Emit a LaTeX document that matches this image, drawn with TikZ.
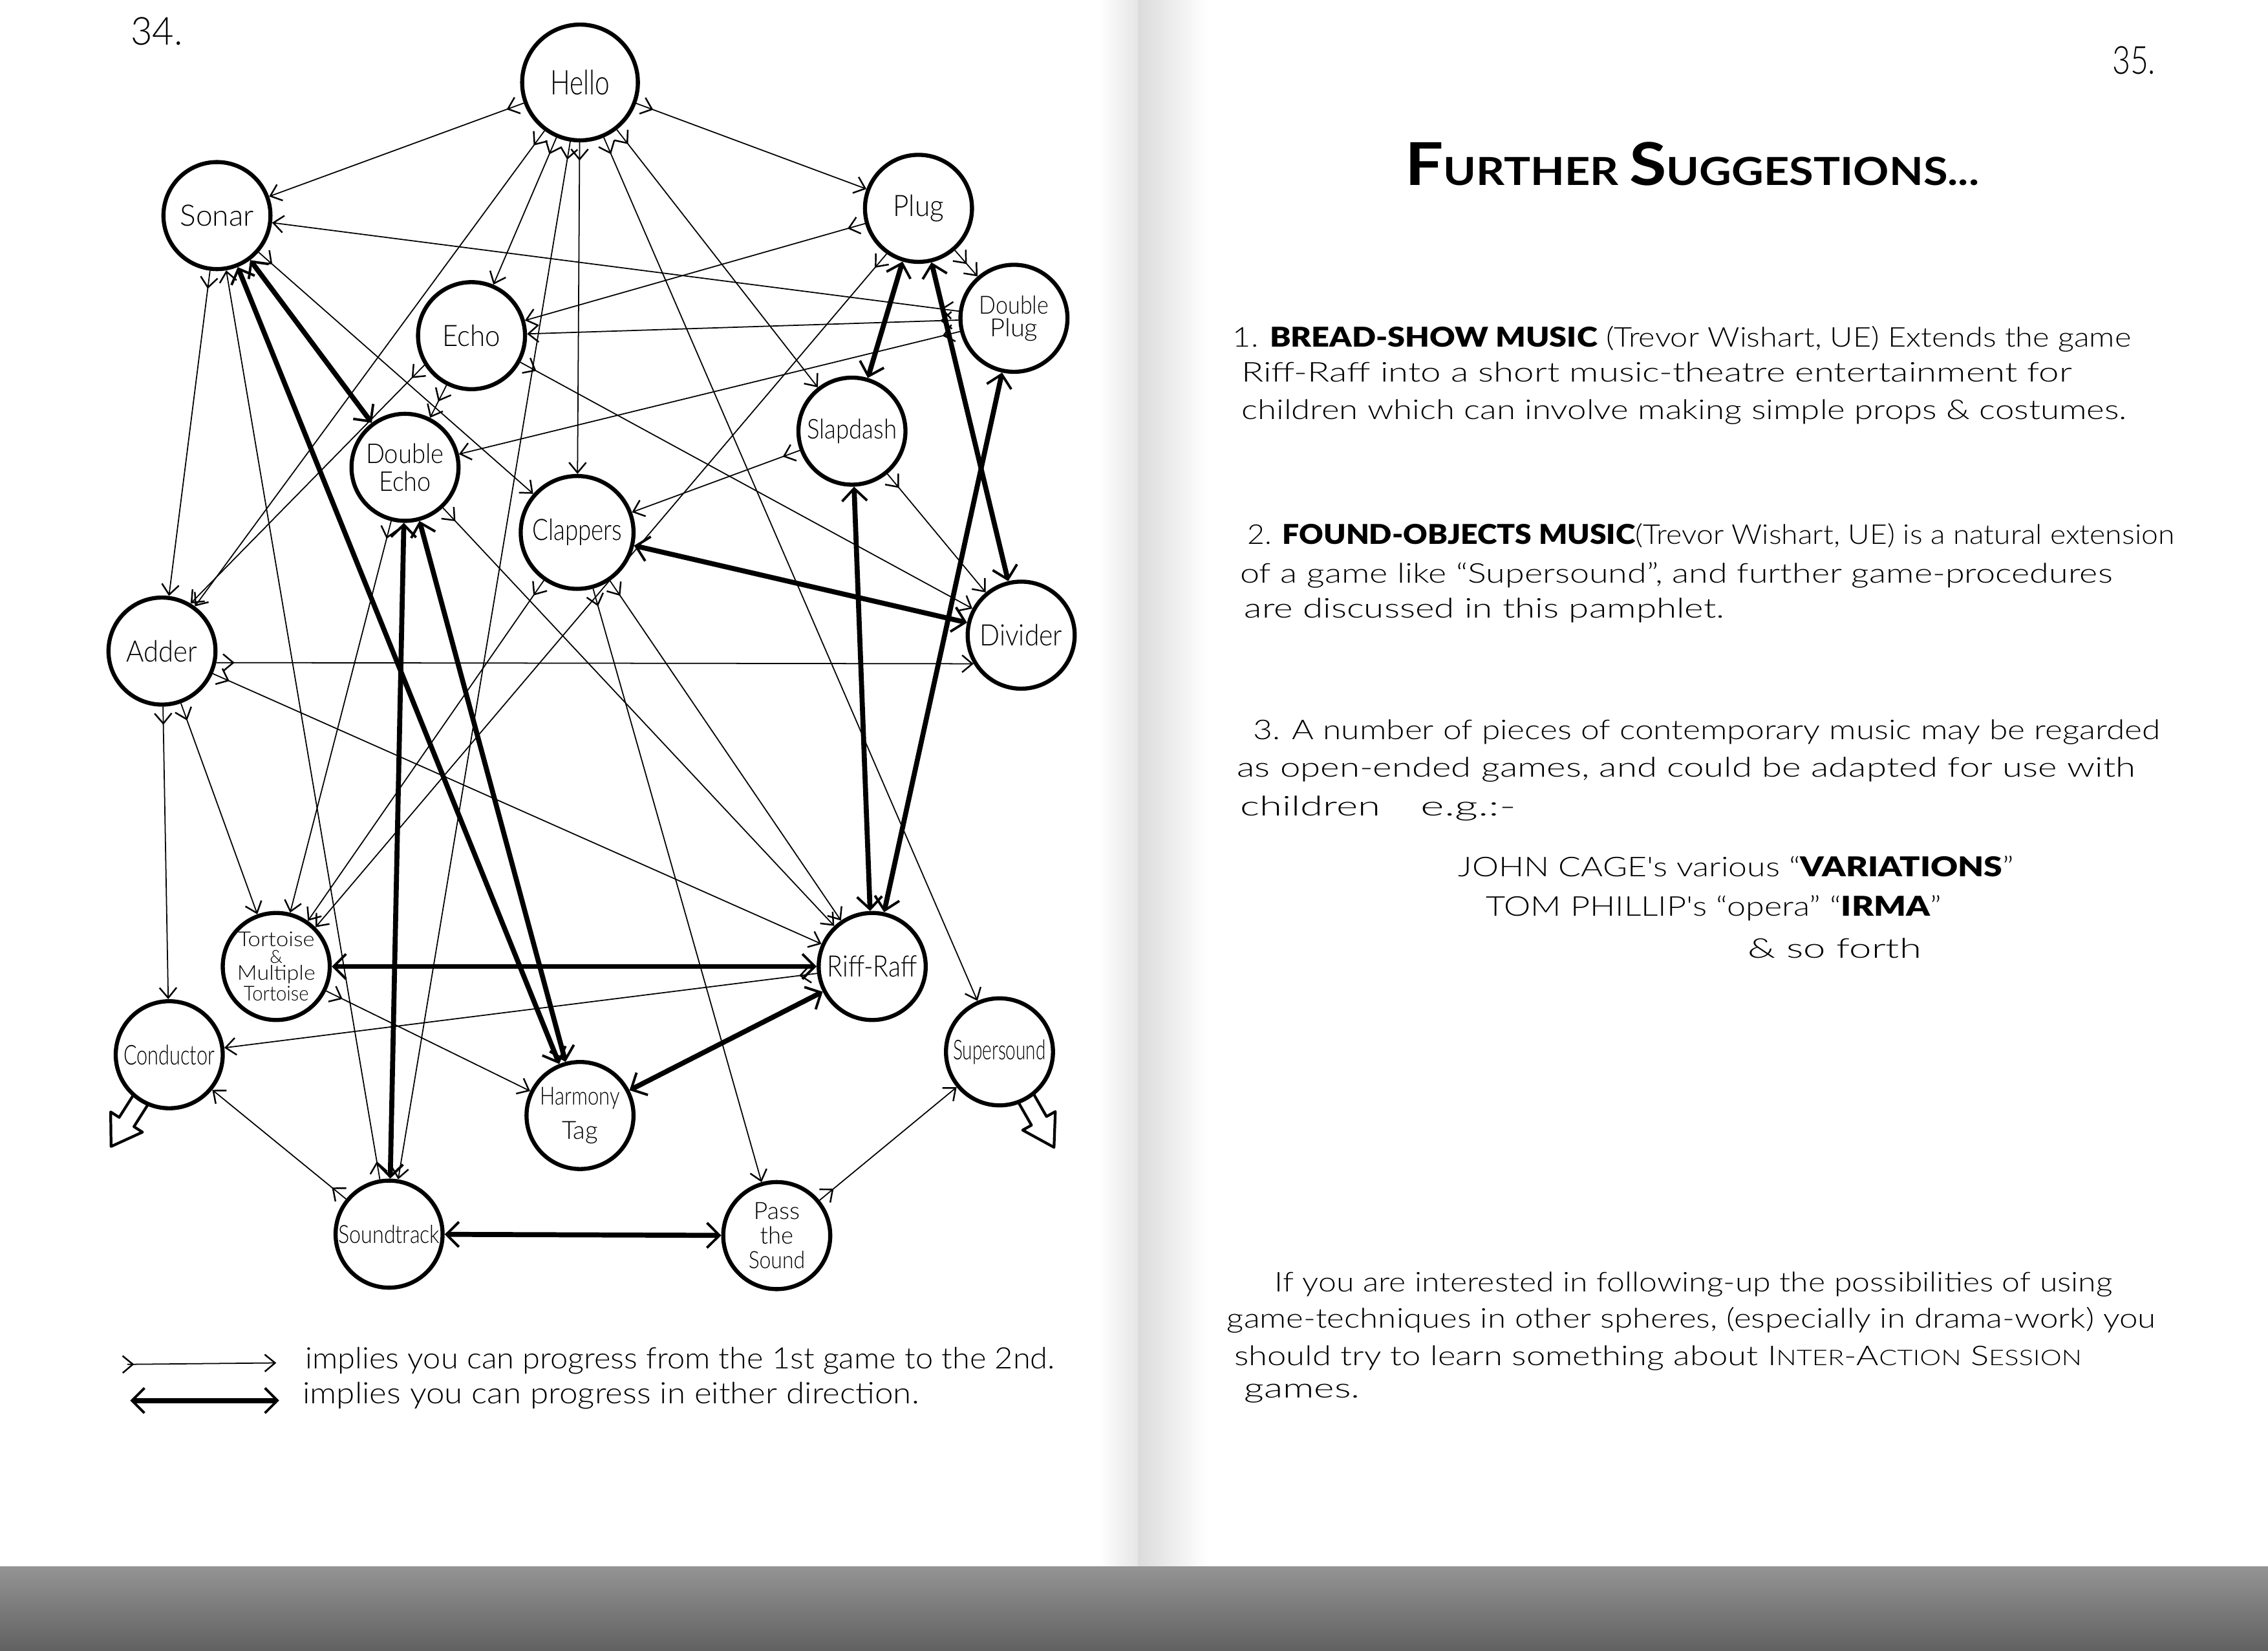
\documentclass[tikz,border=0pt]{standalone}
\usepackage{fontspec}
\usepackage{graphicx}
\usetikzlibrary{arrows.meta,decorations.markings}
\newfontfamily\hand{Lato Light}
\newfontfamily\handbf{Lato Black}
\newfontfamily\handmid{Lato}
\newlength\ux
\setlength\ux{0.02237cm}
% squeeze a handwritten-looking line to a given width, keeping its height
\newcommand\hw[2]{\resizebox{#1\ux}{\height}{#2}}
\newcommand\fsz[1]{\fontsize{#1}{#1}\selectfont}
\pgfdeclarelayer{paper}
\pgfdeclarelayer{links}
\pgfsetlayers{paper,links,main}
\tikzset{
  headbarb/.tip={Straight Barb[length=4.5pt,width=7.5pt,line width=0.7pt]},
  bigbarb/.tip={Straight Barb[length=5.5pt,width=11pt,line width=1.1pt]},
}
\begin{document}
\begin{tikzpicture}[x=0.02237cm,y=-0.02237cm,
  game/.style={circle,draw,fill=white,line width=1.8pt,minimum size=1.655cm,
    inner sep=0pt,align=center,font={\hand\fsz{13}}},
  fwd/.style={line width=0.5pt,-headbarb,postaction={decorate},
    decoration={markings,mark=at position 8pt with {\arrow{headbarb}}}},
  twoway/.style={line width=2.2pt,bigbarb-bigbarb},
  txt/.style={anchor=base west,inner sep=0pt,font={\hand\fsz{12}}},
  hollow/.style={line width=1.2pt,fill=white,line join=round},
]
\useasboundingbox (0,0) rectangle (1568,1141);

% ---------- paper, spine and table edge ----------
\begin{pgfonlayer}{paper}
  \fill[white] (0,0) rectangle (1568,1141);
  \shade[left color=white,right color=black!10] (760,0) rectangle (787,1083);
  \shade[left color=black!14,right color=white] (787,0) rectangle (835,1083);
  \shade[top color=black!42,bottom color=black!62] (0,1083) rectangle (1568,1141);
\end{pgfonlayer}

% ---------- games ----------
\node[game,minimum size=1.79cm,font={\hand\fsz{15}}] (hello) at (401,57) {\hw{41}{Hello}};
\node[game] (sonar) at (150,149) {\hw{51}{Sonar}};
\node[game] (plug) at (635,144) {\hw{35}{Plug}};
\node[game] (echo) at (326,232) {\hw{40}{Echo}};
\node[game,font={\hand\fontsize{11}{10}\selectfont}] (dplug) at (701,220) {\hw{48}{Double}\\\hw{33}{Plug}};
\node[game,font={\hand\fsz{12}}] (slapdash) at (589,298) {\hw{62}{Slapdash}};
\node[game,font={\hand\fontsize{12}{12.4}\selectfont}] (decho) at (280,323) {\hw{54}{Double}\\\hw{36}{Echo}};
\node[game,minimum size=1.745cm] (clappers) at (399,368) {\hw{62}{Clappers}};
\node[game] (divider) at (706,439) {\hw{57}{Divider}};
\node[game] (adder) at (112,450) {\hw{49}{Adder}};
\node[game,font={\hand\fontsize{9}{7.4}\selectfont}] (tortoise) at (191,668)
  {\hw{53}{Tortoise}\\{\fsz{8}\&}\\\hw{54}{Multiple}\\\hw{45}{Tortoise}};
\node[game] (riffraff) at (603,668) {\hw{62}{Riff-Raff}};
\node[game,font={\hand\fsz{12}}] (conductor) at (117,729) {\hw{63}{Conductor}};
\node[game,font={\hand\fsz{12}}] (supersound) at (691,727) {\hw{64}{Supersound}};
\node[game,font={\hand\fontsize{11}{15}\selectfont}] (harmony) at (401,771) {\hw{55}{Harmony}\\\hw{25}{Tag}};
\node[game,font={\hand\fsz{11}}] (soundtrack) at (269,853) {\hw{70}{Soundtrack}};
\node[game,font={\hand\fontsize{10.5}{10.8}\selectfont}] (pass) at (537,854) {\hw{32}{Pass}\\\hw{23}{the}\\\hw{39}{Sound}};

% ---------- progressions ----------
\begin{pgfonlayer}{links}
  % one-way
  \draw[fwd] (hello) -- (sonar);
  \draw[fwd] (hello) -- (plug);
  \draw[fwd] (hello) -- (adder);
  \draw[fwd] (hello) -- (echo);
  \draw[fwd] (hello) -- (soundtrack);
  \draw[fwd] (hello) -- (clappers);
  \draw[fwd] (hello) -- (supersound);
  \draw[fwd] (hello) -- (slapdash);
  \draw[fwd] (dplug) -- (sonar);
  \draw[fwd] (sonar) -- (clappers);
  \draw[fwd] (sonar) -- (adder);
  \draw[fwd] (soundtrack) -- (sonar);
  \draw[fwd] (plug) -- (dplug);
  \draw[fwd] (dplug) -- (echo);
  \draw[fwd] (plug) -- (echo);
  \draw[fwd] (dplug) -- (decho);
  \draw[fwd] (echo) -- (decho);
  \draw[fwd] (echo.212) -- (adder.59);
  \draw[fwd] (echo) -- (divider);
  \draw[fwd] (slapdash) -- (clappers);
  \draw[fwd] (slapdash) -- (divider);
  \draw[fwd] (adder.-12) -- (divider.211);
  \draw[fwd] (adder) -- (tortoise);
  \draw[fwd] (adder) -- (conductor);
  \draw[fwd] (adder) -- (riffraff);
  \draw[fwd] (riffraff) -- (conductor);
  \draw[fwd] (tortoise) -- (harmony);
  \draw[fwd] (soundtrack) -- (conductor);
  \draw[fwd] (pass) -- (supersound);
  \draw[fwd] (clappers) -- (pass);
  \draw[fwd] (clappers) -- (riffraff);
  \draw[fwd] (decho) -- (riffraff);
  \draw[fwd] (decho) -- (tortoise);
  \draw[fwd] (clappers) -- (tortoise);
  \draw[fwd] (plug.235) -- (tortoise.45);
  % either direction
  \draw[twoway] (sonar) -- (decho);
  \draw[twoway] (sonar) -- (harmony);
  \draw[twoway] (plug) -- (slapdash);
  \draw[twoway] (plug) -- (divider);
  \draw[twoway] (dplug) -- (riffraff);
  \draw[twoway] (slapdash) -- (riffraff);
  \draw[twoway] (clappers) -- (divider);
  \draw[twoway] (decho) -- (soundtrack);
  \draw[twoway] (decho) -- (harmony);
  \draw[twoway] (tortoise) -- (riffraff);
  \draw[twoway] (riffraff) -- (harmony);
  \draw[twoway] (soundtrack) -- (pass);
  % open exits
  \draw[hollow] (103.9,760.9) -- (92.6,778.7) -- (98.5,782.5) -- (76.8,792.4)
    -- (76.5,768.5) -- (82.4,772.3) -- (93.7,754.5);
  \draw[hollow] (713.1,753.5) -- (723.5,771.7) -- (729.6,768.3) -- (728.7,793.0)
    -- (707.0,781.1) -- (713.1,777.7) -- (702.7,759.5);
\end{pgfonlayer}

% ---------- key ----------
\coordinate (k1a) at (88,943);
\coordinate (k1b) at (191,942);
\coordinate (k2a) at (90,968);
\coordinate (k2b) at (193,968);
\draw[line width=0.5pt,-headbarb,postaction={decorate},
  decoration={markings,mark=at position 3pt with {\arrow{headbarb}}}] (k1a) -- (k1b);
\draw[twoway] (k2a) -- (k2b);
\node[txt,font={\hand\fsz{13}}] (key1) at (211,946) {\hw{518}{implies you can progress from the 1st game to the 2nd.}};
\node[txt,font={\hand\fsz{13}}] (key2) at (209,970) {\hw{426}{implies you can progress in either direction.}};

% ---------- page numbers ----------
\node[txt,font={\hand\fsz{17}}] (p34) at (90,31) {\hw{36}{34.}};
\node[txt,font={\hand\fsz{17}}] (p35) at (1460,51) {\hw{30}{35.}};

% ---------- facing page ----------
\node[txt] (title) at (971,128) {\hw{397}{\handmid\bfseries\fsz{26}F\fsz{17}URTHER\ \fsz{26}S\fsz{17}UGGESTIONS...}};

\node[txt] (a1) at (852,240) {\hw{621}{1. {\handbf BREAD-SHOW MUSIC} (Trevor Wishart, UE) Extends the game}};
\node[txt] (a2) at (858,264) {\hw{574}{Riff-Raff into a short music-theatre entertainment for}};
\node[txt] (a3) at (858,290) {\hw{612}{children which can involve making simple props \& costumes.}};

\node[txt] (b1) at (862,376) {\hw{641}{2. {\handbf FOUND-OBJECTS MUSIC}(Trevor Wishart, UE) is a natural extension}};
\node[txt] (b2) at (857,403) {\hw{603}{of a game like “Supersound”, and further game-procedures}};
\node[txt] (b3) at (860,427) {\hw{332}{are discussed in this pamphlet.}};

\node[txt] (c1) at (866,511) {\hw{627}{3. A number of pieces of contemporary music may be regarded}};
\node[txt] (c2) at (855,537) {\hw{621}{as open-ended games, and could be adapted for use with}};
\node[txt] (c3) at (857,564) {\hw{97}{children}};
\node[txt] (c3b) at (982,564) {\hw{66}{e.g.:-}};
\node[txt] (c4) at (1008,606) {\hw{384}{JOHN CAGE's various “{\handbf VARIATIONS}”}};
\node[txt] (c5) at (1027,633) {\hw{315}{TOM PHILLIP's “opera” “{\handbf IRMA}”}};
\node[txt] (c6) at (1208,662) {\hw{120}{\& so forth}};

\node[txt] (d1) at (881,893) {\hw{579}{If you are interested in following-up the possibilities of using}};
\node[txt] (d2) at (848,918) {\hw{642}{game-techniques in other spheres, (especially in drama-work) you}};
\node[txt] (d3) at (853,944) {\hw{586}{should try to learn something about I{\fsz{9.5}NTER}-A{\fsz{9.5}CTION} S{\fsz{9.5}ESSION}}};
\node[txt] (d4) at (860,966) {\hw{80}{games.}};
\end{tikzpicture}
\end{document}
